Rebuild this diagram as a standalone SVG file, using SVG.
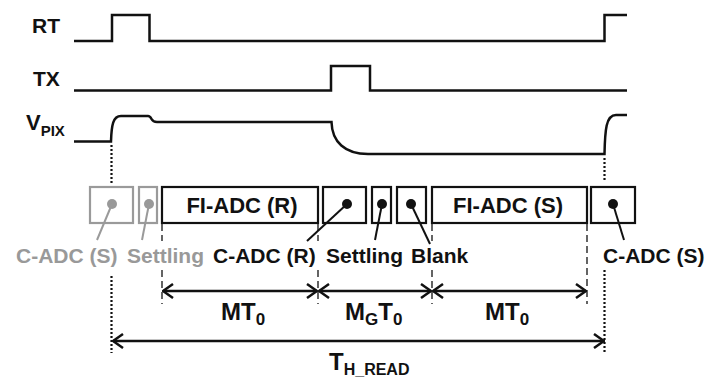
<svg xmlns="http://www.w3.org/2000/svg" width="709" height="378" viewBox="0 0 709 378">
<style>
.sig{fill:none;stroke:#111;stroke-width:2.5;stroke-linejoin:miter}
.lbl{font-family:"Liberation Sans",Arial,sans-serif;font-weight:bold;fill:#111}
.g{fill:#999}
.box{fill:#fff;stroke:#111;stroke-width:2.2}
.gbox{fill:#fff;stroke:#9a9a9a;stroke-width:2.2}
.lead{stroke:#111;stroke-width:2}
.glead{stroke:#9a9a9a;stroke-width:2}
.dash{stroke:#111;stroke-width:1.3;stroke-dasharray:7,4;fill:none}
.dot{stroke:#111;stroke-width:2.2;stroke-dasharray:2,2;fill:none}
.arr{stroke:#111;stroke-width:2.5;fill:none;marker-start:url(#ah);marker-end:url(#ah)}
</style>
<defs>
<marker id="ah" viewBox="0 0 12 16" refX="11" refY="8" markerWidth="12" markerHeight="16" markerUnits="userSpaceOnUse" orient="auto-start-reverse">
<polyline points="1,1 11,8 1,15" fill="none" stroke="#111" stroke-width="2.5"/>
</marker>
</defs>
<g id="signals">
<g id="rt"><text class="lbl" x="32" y="33" font-size="21">RT</text>
<path class="sig" d="M74,41 H112 V15 H149.5 V41 H604.5 V15 H627"/></g>
<g id="tx"><text class="lbl" x="33" y="86" font-size="21">TX</text>
<path class="sig" d="M74,90.5 H331 V66 H370 V90.5 H627"/></g>
<g id="vpix"><text class="lbl" x="26" y="130" font-size="22">V<tspan font-size="15" dy="6">PIX</tspan></text>
<path class="sig" d="M74,141.5 H111 C111.5,125 113,116 121,116 H148 Q150,116 151.5,119 Q153,122 157,122 H331.5 C332,142 345,154 368,154 H604.5 C605,130 606,115 616,115 H627"/></g>
</g>
<g id="n-cadc-s-gray"><rect class="gbox" x="90" y="187" width="43" height="36"/><circle cx="112" cy="204" r="5" class="g"/></g>
<g id="n-settling-gray"><rect class="gbox" x="139" y="187" width="18" height="36"/><circle cx="149" cy="204" r="5" class="g"/></g>
<g id="n-fiadc-r"><rect class="box" x="162" y="187" width="156" height="36"/><text class="lbl" x="242" y="213" font-size="22" text-anchor="middle">FI-ADC (R)</text></g>
<g id="n-cadc-r"><rect class="box" x="323" y="187" width="43" height="36"/><circle cx="347" cy="204" r="5" fill="#111"/></g>
<g id="n-settling"><rect class="box" x="372" y="187" width="19" height="36"/><circle cx="382" cy="204" r="5" fill="#111"/></g>
<g id="n-blank"><rect class="box" x="397" y="187" width="29" height="36"/><circle cx="411" cy="204" r="5" fill="#111"/></g>
<g id="n-fiadc-s"><rect class="box" x="432" y="187" width="155" height="36"/><text class="lbl" x="508" y="213" font-size="22" text-anchor="middle">FI-ADC (S)</text></g>
<g id="n-cadc-s"><rect class="box" x="591" y="187" width="44" height="36"/><circle cx="613" cy="204" r="5" fill="#111"/></g>
<g id="connectors">
<line class="dot" x1="111.5" y1="145" x2="111.5" y2="183"/>
<line class="dot" x1="111.5" y1="276" x2="111.5" y2="353"/>
<line class="dot" x1="604.5" y1="158" x2="604.5" y2="182"/>
<line class="dot" x1="604.5" y1="270" x2="604.5" y2="353"/>
<path class="dash" d="M162,224 V241 M162,270 V304 M318,224 V241 M318,270 V304 M432,224 V241 M432,270 V304 M587,224 V304"/>
<line class="arr" x1="163" y1="291" x2="317" y2="291"/>
<line class="arr" x1="319" y1="291" x2="431" y2="291"/>
<line class="arr" x1="433" y1="291" x2="586" y2="291"/>
<line class="arr" x1="113" y1="341" x2="604" y2="341"/>
<line class="glead" x1="112" y1="204" x2="97" y2="240"/>
<line class="glead" x1="149" y1="204" x2="142" y2="240"/>
<line class="lead" x1="347" y1="204" x2="307" y2="241"/>
<line class="lead" x1="382" y1="204" x2="375" y2="240"/>
<line class="lead" x1="411" y1="204" x2="430" y2="244"/>
<line class="lead" x1="613" y1="204" x2="624" y2="240"/>
</g>
<g id="labels">
<text class="lbl g" x="16" y="263" font-size="21">C-ADC (S)</text>
<text class="lbl g" x="127" y="263" font-size="21">Settling</text>
<text class="lbl" x="213" y="263" font-size="21">C-ADC (R)</text>
<text class="lbl" x="326" y="263" font-size="21">Settling</text>
<text class="lbl" x="411" y="263" font-size="21">Blank</text>
<text class="lbl" x="603" y="263" font-size="21">C-ADC (S)</text>
<text class="lbl" x="221" y="320" font-size="24">MT<tspan font-size="17" dy="5">0</tspan></text>
<text class="lbl" x="345" y="320" font-size="24">M<tspan font-size="17" dy="5">G</tspan><tspan dy="-5">T</tspan><tspan font-size="17" dy="5">0</tspan></text>
<text class="lbl" x="485" y="320" font-size="24">MT<tspan font-size="17" dy="5">0</tspan></text>
<text class="lbl" x="329" y="370" font-size="24">T<tspan font-size="16" dy="5">H_READ</tspan></text>
</g>
</svg>
